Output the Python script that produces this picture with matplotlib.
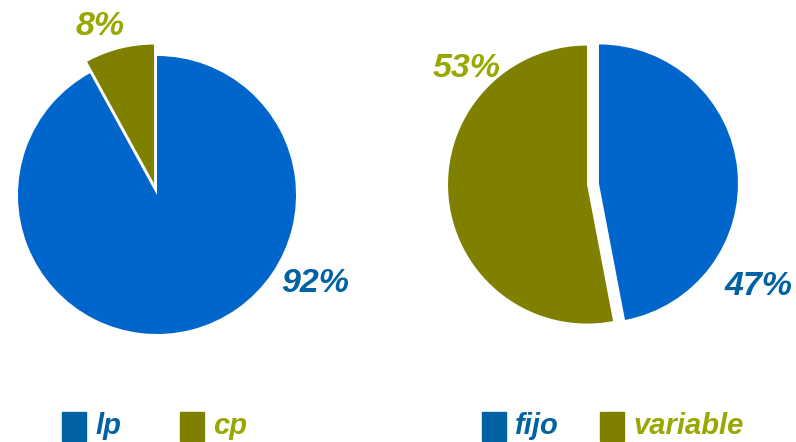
import matplotlib.pyplot as plt
from matplotlib.patches import Rectangle

# data
left_labels = ['lp', 'cp']
left_values = [92, 8]
right_labels = ['fijo', 'variable']
right_values = [47, 53]

pie_colors = ['#0066CC', '#808000']
legend_colors = ['#0062A3', '#808000']
text_colors = ['#0062A3', '#99A800']

plt.rcParams['font.family'] = ['Liberation Sans', 'DejaVu Sans']

W, H = 796, 442
fig = plt.figure(figsize=(W / 100, H / 100), dpi=100)


def pie_axes(cx, cy, r):
    # cx, cy in pixels from top-left, r in pixels
    s = 2.4 * r
    ax = fig.add_axes([(cx - s / 2) / W, (H - cy - s / 2) / H, s / W, s / H])
    return ax


def fix_limits(ax):
    ax.set_xlim(-1.2, 1.2)
    ax.set_ylim(-1.2, 1.2)
    ax.axis('off')


pct_kw = dict(fontsize=24.5, fontweight='bold', fontstyle='italic',
              ha='center', va='center')

ax1 = pie_axes(157, 195, 139)
ax1.pie(left_values, colors=pie_colors, startangle=90, counterclock=False,
        explode=[0, 0.085], radius=1)
fix_limits(ax1)
ax1.text(1.14, -0.64, f'{left_values[0]}%', color=text_colors[0], **pct_kw)
ax1.text(-0.41, 1.21, f'{left_values[1]}%', color=text_colors[1], **pct_kw)

ax2 = pie_axes(593, 184, 139)
ax2.pie(right_values, colors=pie_colors, startangle=90, counterclock=False,
        explode=[0.043, 0.043], radius=1)
fix_limits(ax2)
ax2.text(1.19, -0.74, f'{right_values[0]}%', color=text_colors[0], **pct_kw)
ax2.text(-0.91, 0.83, f'{right_values[1]}%', color=text_colors[1], **pct_kw)

# legends (square + label), pixel positions
legend_items = [(62, left_labels[0], 0), (180, left_labels[1], 1),
                (482, right_labels[0], 0), (600, right_labels[1], 1)]
for x, lab, i in legend_items:
    fig.add_artist(Rectangle((x / W, (H - 441) / H), 24 / W, 29 / H,
                             transform=fig.transFigure, color=legend_colors[i]))
    fig.text((x + 33) / W, (H - 426) / H, lab, color=text_colors[i], fontsize=21,
             fontweight='bold', fontstyle='italic', ha='left', va='center')

fig.savefig('out.png', dpi=100)
